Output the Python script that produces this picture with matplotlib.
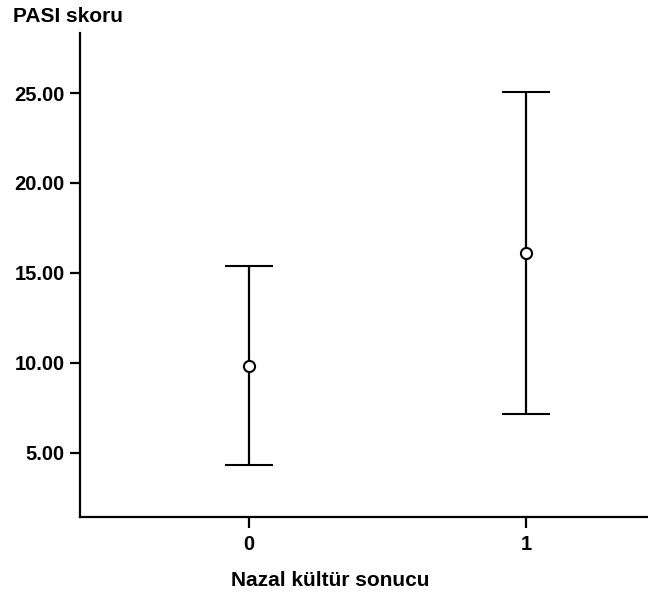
import numpy as np
import matplotlib.pyplot as plt

plt.rcParams['font.family'] = ['Liberation Sans', 'DejaVu Sans']

groups = [0, 1]
group_labels = ['0', '1']
means = [9.83, 16.12]
lower = [4.28, 7.16]
upper = [15.40, 25.08]
yticks = [5, 10, 15, 20, 25]

fig = plt.figure(figsize=(6.48, 5.95), dpi=100)
ax = fig.add_axes([80/648, 78.3/595, 568/648, 483.4/595])

err = [np.array(means) - np.array(lower), np.array(upper) - np.array(means)]
ax.errorbar(groups, means, yerr=err, fmt='o', color='black', mfc='white',
            mec='black', ms=8, mew=1.5, elinewidth=1.6, capsize=17, capthick=1.6)

ax.set_xlim(-0.61, 1.44)
ax.set_ylim(1.43, 28.33)
ax.set_xticks(groups)
ax.set_xticklabels(group_labels)
ax.set_yticks(yticks)
ax.set_yticklabels(['%.2f' % v for v in yticks])

for side in ['top', 'right']:
    ax.spines[side].set_visible(False)
for side in ['left', 'bottom']:
    ax.spines[side].set_linewidth(1.6)

ax.tick_params(axis='y', length=7, width=1.6, pad=4, labelsize=14.5)
ax.tick_params(axis='x', length=8, width=1.6, pad=5, labelsize=14.5)
for lbl in ax.get_xticklabels() + ax.get_yticklabels():
    lbl.set_fontweight('bold')

# x label sits left of the axes centre in the original
fig.text(330/648, 1 - 580/595, 'Nazal kültür sonucu', fontsize=15,
         fontweight='bold', ha='center', va='center')
fig.text(13/648, 1 - 17/595, 'PASI skoru', fontsize=15, fontweight='bold',
         ha='left', va='center')

fig.savefig('out.png', dpi=100)
